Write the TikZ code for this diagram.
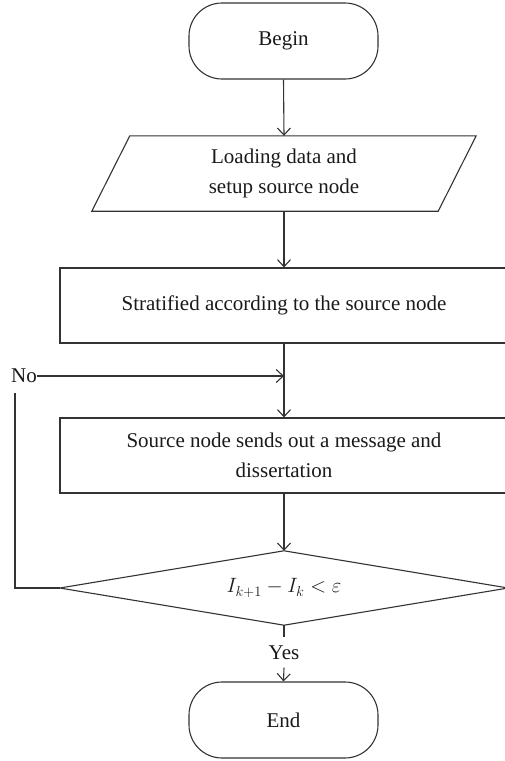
\documentclass[tikz,border=0pt]{standalone}
\usepackage{fontspec}
\setmainfont{Liberation Serif}
\usetikzlibrary{arrows.meta}
\definecolor{ln}{HTML}{333333}
\definecolor{tx}{HTML}{1a1a1a}
\tikzset{
  every node/.style={font=\fontsize{21}{30}\selectfont, text=tx},
  flow/.style={draw=ln, line width=1.1pt},
  arr/.style={flow, -{Straight Barb[length=7pt,width=13pt,line width=1.1pt]}},
  terminal/.style={draw=ln, line width=1.1pt, rectangle, rounded corners=33pt, minimum width=189pt, minimum height=76pt, inner sep=0pt},
  procbox/.style={draw=ln, line width=1.1pt, rectangle, minimum width=448pt, minimum height=75pt, inner sep=0pt, align=center},
  ghost/.style={rectangle, inner sep=0pt, align=center},
}
\begin{document}
\begin{tikzpicture}[x=1pt,y=-1pt]
\useasboundingbox (0,0) rectangle (505,761);
\node[terminal] (begin) at (283.5,41) {Begin};
\node[ghost, minimum width=346pt, minimum height=75pt] (load) at (284,173.5) {Loading data and\\setup source node};
\draw[flow] ([xshift=19pt]load.north west) -- ([xshift=19pt]load.north east) -- ([xshift=-19pt]load.south east) -- ([xshift=-19pt]load.south west) -- cycle;
\node[procbox] (strat) at (284,305.5) {Stratified according to the source node};
\node[procbox] (src) at (284,455.5) {Source node sends out a message and\\dissertation};
\node[ghost, minimum width=448pt, minimum height=74pt] (dec) at (284,588) {$I_{k+1} - I_k < \varepsilon$};
\draw[flow] (dec.north) -- (dec.east) -- (dec.south) -- (dec.west) -- cycle;
\node[ghost, minimum height=30pt] (yes) at (284,652.5) {Yes};
\node[terminal] (end) at (283.5,720) {End};
\node[ghost, anchor=east] (no) at (37,376) {No};
\coordinate (join) at (284,376);
\coordinate (looptop) at (15,393);

\draw[arr] (begin.south) -- (load.north);
\draw[arr] (load.south) -- (strat.north);
\draw[arr] (strat.south) -- (src.north);
\draw[arr] (no.east) -- (join);
\draw[arr] (src.south) -- (dec.north);
\draw[flow] (dec.west) -| (looptop);
\draw[flow] (dec.south) -- (yes.north);
\draw[arr] (yes.south) -- (end.north);
\end{tikzpicture}
\end{document}
